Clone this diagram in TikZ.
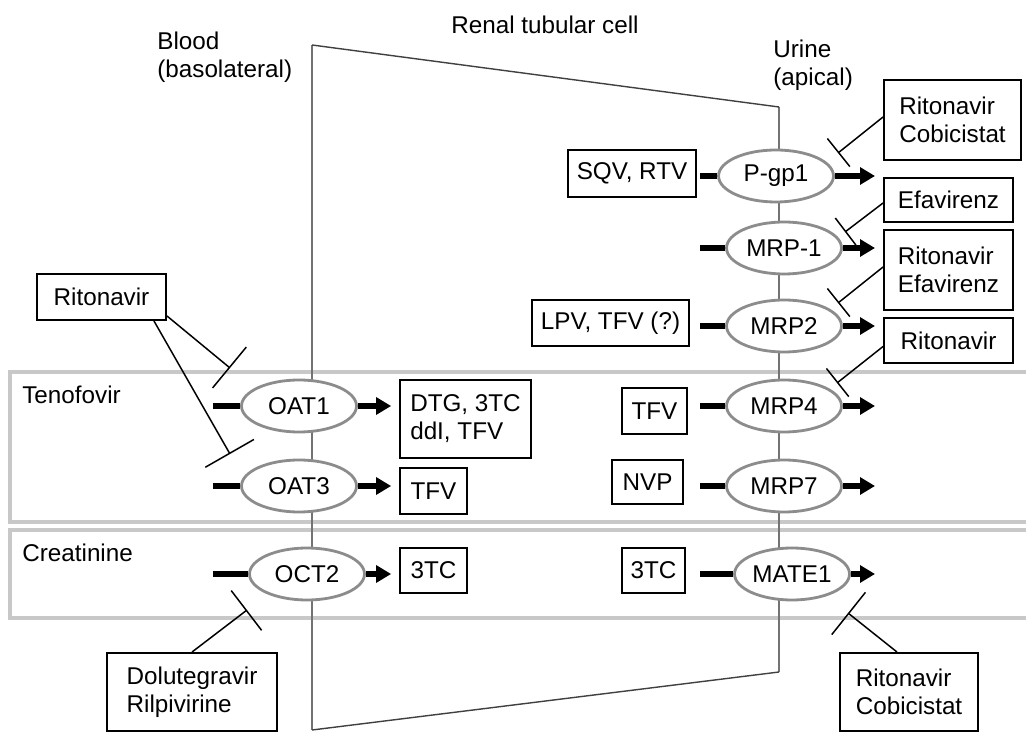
\documentclass[tikz,border=0pt]{standalone}
\usepackage{fontspec}
\setmainfont{Liberation Sans}
\usetikzlibrary{arrows.meta,shapes.geometric,calc}
\definecolor{membgray}{RGB}{115,115,115}
\definecolor{bandgray}{RGB}{200,200,200}
\definecolor{ovalgray}{RGB}{140,140,140}

\begin{document}
\begin{tikzpicture}[x=0.02cm, y=-0.02cm,
    every node/.style={font=\fontsize{13.8pt}{16pt}\selectfont},
    drugbox/.style={rectangle, draw, line width=1.1pt, align=left, inner sep=0pt},
    carrier/.style={ellipse, draw=ovalgray, line width=1.6pt, fill=white, minimum width=2.3cm, minimum height=1.04cm, inner sep=0pt},
    band/.style={draw=bandgray, line width=1.9pt},
    inbar/.style={line width=3.3pt},
    outarrow/.style={-{Triangle[length=8.5pt,width=9.5pt]}, line width=3pt},
    blocker/.style={-{Bar[width=#1]}, line width=0.85pt},
    sidetext/.style={align=left, anchor=west, inner sep=0pt}
]
    \useasboundingbox (0,0) rectangle (1026,732);

    % Substrate bands
    \draw[band] (10,372) rectangle (1040,522);
    \draw[band] (10,530) rectangle (1040,618);
    \node[sidetext] (teno) at (22,395) {Tenofovir};
    \node[sidetext] (crea) at (22,553) {Creatinine};

    % Cell outline
    \draw[membgray, line width=1.1pt] (312,45) -- (312,730);
    \draw[membgray, line width=1.1pt] (779,107) -- (779,672);
    \draw[black!75, line width=0.8pt] (312,45) -- (779,107);
    \draw[black!75, line width=0.8pt] (312,730) -- (779,672);

    % Headings
    \node[sidetext] (blood) at (157,57) {Blood\\(basolateral)};
    \node[inner sep=0pt] (cell) at (545,25) {Renal tubular cell};
    \node[sidetext] (urine) at (773,65) {Urine\\(apical)};

    % Basolateral transporters
    \node[carrier] (oat1) at (299,406) {OAT1};
    \node[carrier] (oat3) at (299,486) {OAT3};
    \node[carrier] (oct2) at (307,574) {OCT2};

    % Apical transporters
    \node[carrier] (pgp) at (776,176) {P-gp1};
    \node[carrier] (mrp1) at (784,248) {MRP-1};
    \node[carrier] (mrp2) at (784,326) {MRP2};
    \node[carrier] (mrp4) at (784,406) {MRP4};
    \node[carrier] (mrp7) at (784,486) {MRP7};
    \node[carrier] (mate) at (792,574) {MATE1};

    % Drug boxes, left side
    \node[drugbox, minimum width=2.58cm, minimum height=0.92cm] (rito) at (101.5,297) {Ritonavir};
    \node[drugbox, minimum width=2.62cm, minimum height=1.56cm] (dtg) at (465.5,419) {DTG, 3TC\\ddI, TFV};
    \node[drugbox, minimum width=1.34cm, minimum height=0.92cm] (tfva) at (433.5,491) {TFV};
    \node[drugbox, minimum width=1.34cm, minimum height=0.90cm] (tctA) at (433.5,570.5) {3TC};
    \node[drugbox, minimum width=3.4cm, minimum height=1.56cm] (dolu) at (192,692) {Dolutegravir\\Rilpivirine};

    % Drug boxes, right side
    \node[drugbox, minimum width=2.56cm, minimum height=0.94cm] (sqv) at (632,173.5) {SQV, RTV};
    \node[drugbox, minimum width=3.14cm, minimum height=0.92cm] (lpv) at (610.5,323) {LPV, TFV (?)};
    \node[drugbox, minimum width=1.3cm, minimum height=0.92cm] (tfvb) at (654.5,411) {TFV};
    \node[drugbox, minimum width=1.42cm, minimum height=0.88cm] (nvp) at (647.5,482) {NVP};
    \node[drugbox, minimum width=1.26cm, minimum height=0.90cm] (tctB) at (653.5,570.5) {3TC};
    \node[drugbox, minimum width=2.74cm, minimum height=1.6cm] (rcA) at (952.5,120) {Ritonavir\\Cobicistat};
    \node[drugbox, minimum width=2.58cm, minimum height=0.88cm] (efa) at (948.5,200) {Efavirenz};
    \node[drugbox, minimum width=2.58cm, minimum height=1.6cm] (refa) at (948.5,270) {Ritonavir\\Efavirenz};
    \node[drugbox, minimum width=2.58cm, minimum height=0.9cm] (ritB) at (948.5,340.5) {Ritonavir};
    \node[drugbox, minimum width=2.76cm, minimum height=1.56cm] (rcB) at (909,692) {Ritonavir\\Cobicistat};

    % Uptake stubs
    \coordinate (inOat1) at (213,406);
    \coordinate (inOat3) at (213,486);
    \coordinate (inOct2) at (213,574);
    \coordinate (inPgp) at (700,176);
    \coordinate (inMrp1) at (700,248);
    \coordinate (inMrp2) at (700,326);
    \coordinate (inMrp4) at (700,406);
    \coordinate (inMrp7) at (700,486);
    \coordinate (inMate) at (700,574);
    \draw[inbar] (inOat1) -- (oat1.west);
    \draw[inbar] (inOat3) -- (oat3.west);
    \draw[inbar] (inOct2) -- (oct2.west);
    \draw[inbar] (inPgp) -- (pgp.west);
    \draw[inbar] (inMrp1) -- (mrp1.west);
    \draw[inbar] (inMrp2) -- (mrp2.west);
    \draw[inbar] (inMrp4) -- (mrp4.west);
    \draw[inbar] (inMrp7) -- (mrp7.west);
    \draw[inbar] (inMate) -- (mate.west);

    % Efflux arrows
    \coordinate (outPgp) at (875,176);
    \coordinate (outMrp1) at (875,248);
    \coordinate (outMrp2) at (875,326);
    \coordinate (outMrp4) at (875,406);
    \coordinate (outMrp7) at (875,486);
    \coordinate (outMate) at (875,574);
    \draw[outarrow, shorten >=4.5pt] (oat1.east) -- (oat1.east -| dtg.west);
    \draw[outarrow, shorten >=4.5pt] (oat3.east) -- (oat3.east -| tfva.west);
    \draw[outarrow, shorten >=4.5pt] (oct2.east) -- (oct2.east -| tctA.west);
    \draw[outarrow] (pgp.east) -- (outPgp);
    \draw[outarrow] (mrp1.east) -- (outMrp1);
    \draw[outarrow] (mrp2.east) -- (outMrp2);
    \draw[outarrow] (mrp4.east) -- (outMrp4);
    \draw[outarrow] (mrp7.east) -- (outMrp7);
    \draw[outarrow] (mate.east) -- (outMate);

    % Inhibition
    \coordinate (blkOat1) at (230,368);
    \coordinate (blkOat3) at (230,454);
    \coordinate (blkOct2) at (247,610);
    \coordinate (blkPgp) at (838,153);
    \coordinate (blkMrp1) at (845,232);
    \coordinate (blkMrp2) at (838,303);
    \coordinate (blkMrp4) at (837,383);
    \coordinate (blkMate) at (848,613);
    \draw[blocker=1.06cm] ($(rito.south east)+(0,-5)$) -- (blkOat1);
    \draw[blocker=1.12cm] ($(rito.south east)+(-13,0)$) -- (blkOat3);
    \draw[blocker=1.0cm] (dolu.north) -- (blkOct2);
    \draw[blocker=0.72cm] ($(rcA.west)+(0,-3)$) -- (blkPgp);
    \draw[blocker=0.68cm] ($(efa.west)+(0,3)$) -- (blkMrp1);
    \draw[blocker=0.72cm] ($(refa.west)+(0,-3)$) -- (blkMrp2);
    \draw[blocker=0.72cm] ($(ritB.west)+(0,6)$) -- (blkMrp4);
    \draw[blocker=1.08cm] ($(rcB.north)+(-12,0)$) -- (blkMate);
\end{tikzpicture}
\end{document}
